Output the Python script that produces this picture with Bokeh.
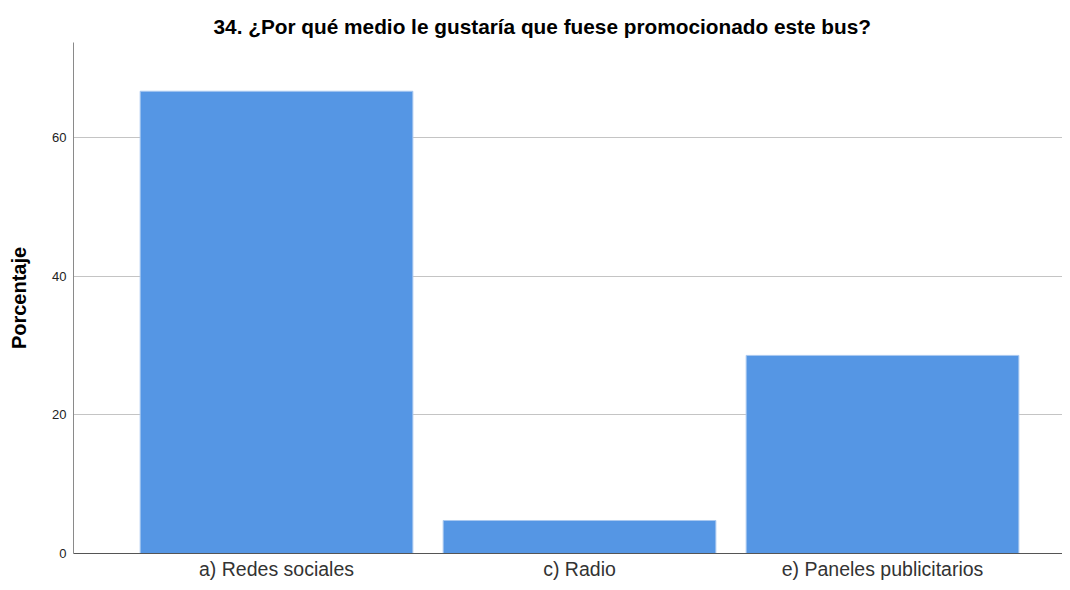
from bokeh.plotting import figure
from bokeh.models import FixedTicker, Range1d, ColumnDataSource
from bokeh.embed import file_html
from bokeh.resources import INLINE

categories = ["a) Redes sociales", "c) Radio", "e) Paneles publicitarios"]
values = [66.67, 4.76, 28.57]
y_ticks = [0, 20, 40, 60]

xs = list(range(len(categories)))
src = ColumnDataSource(dict(x=xs, top=values))

p = figure(width=1062, height=582, output_backend="svg", toolbar_location=None,
           x_range=Range1d(-0.67, 2.594), y_range=Range1d(0, 73.7),
           min_border_left=73, min_border_right=0, min_border_top=42, min_border_bottom=24)
p.title.text = "34. ¿Por qué medio le gustaría que fuese promocionado este bus?"
p.title.align = "left"
p.title.offset = 140
p.title.text_font = "Liberation Sans"
p.title.text_font_size = "20.8px"
p.title.text_font_style = "bold"
p.title.text_color = "#000000"

p.vbar(x="x", top="top", width=0.9, bottom=0, source=src,
       fill_color="#5596e4", line_color="#a9c8f0", line_width=1)

p.outline_line_color = None
p.xgrid.grid_line_color = None
p.ygrid.grid_line_color = "#c4c4c4"
p.ygrid.grid_line_width = 1

p.yaxis.ticker = FixedTicker(ticks=y_ticks)
p.xaxis.ticker = FixedTicker(ticks=xs)
p.xaxis.major_label_overrides = {i: c for i, c in enumerate(categories)}

for ax in (p.xaxis, p.yaxis):
    ax.major_tick_line_color = None
    ax.minor_tick_line_color = None
    ax.major_tick_out = 0
    ax.major_tick_in = 0
    ax.minor_tick_out = 0
    ax.major_label_text_font = "Liberation Sans"
p.yaxis.axis_line_color = "#8a8a8a"
p.xaxis.axis_line_color = "#555555"
p.yaxis.major_label_text_font_size = "13px"
p.yaxis.major_label_text_color = "#222222"
p.xaxis.major_label_text_font_size = "19.5px"
p.xaxis.major_label_text_color = "#333333"
p.xaxis.major_label_standoff = 4
p.yaxis.major_label_standoff = 7

p.yaxis.axis_label = "Porcentaje"
p.yaxis.axis_label_text_font = "Liberation Sans"
p.yaxis.axis_label_text_font_size = "20px"
p.yaxis.axis_label_text_font_style = "bold"
p.yaxis.axis_label_text_color = "#000000"
p.yaxis.axis_label_standoff = 19

open("out.html", "w").write(file_html(p, INLINE))
